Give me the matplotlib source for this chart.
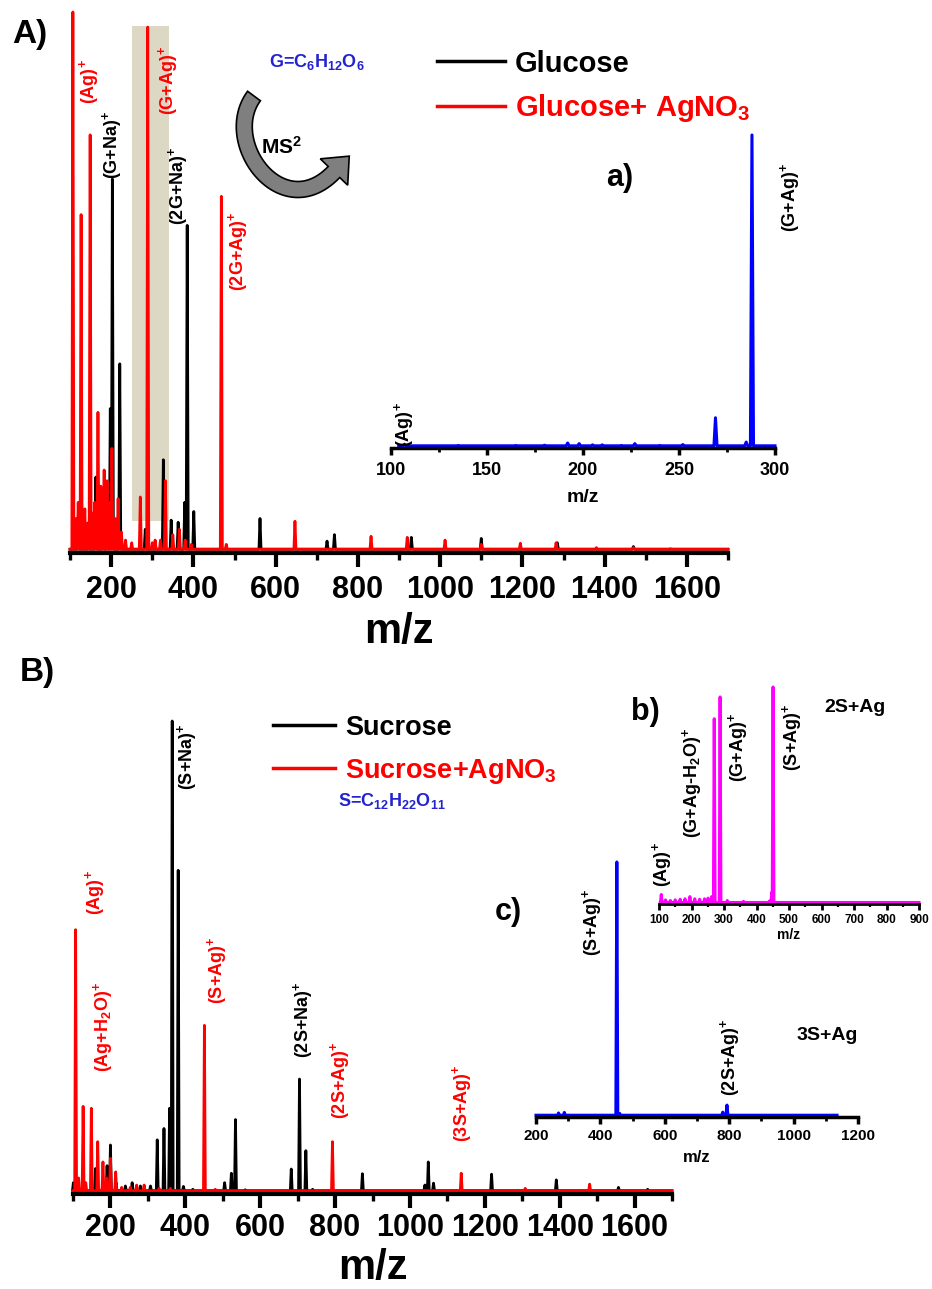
import numpy as np
import matplotlib
matplotlib.use('Agg')
import matplotlib.pyplot as plt
from matplotlib.patches import Rectangle, Polygon

plt.rcParams['font.family'] = ['Liberation Sans', 'DejaVu Sans']
plt.rcParams['font.weight'] = 'bold'
plt.rcParams['mathtext.fontset'] = 'custom'
plt.rcParams['mathtext.rm'] = 'Liberation Sans:bold'
plt.rcParams['mathtext.it'] = 'Liberation Sans:bold'
plt.rcParams['mathtext.bf'] = 'Liberation Sans:bold'

RED, BLUE, MAGENTA, FORMULA = '#ff0000', '#0000ff', '#ff00ff', '#2323cf'

# ---- peak lists: m/z and relative intensity ----
# A) glucose
glu_mz = [120, 145, 163, 180, 191, 198, 203, 221, 283, 327, 346, 363, 379, 385,
          401, 562, 725, 743, 930, 1100, 1285, 1470]
glu_int = [.02, .052, .137, .05, .08, .264, .69, .347, .04, .169, .057, .053, .09,
           .604, .073, .06, .018, .03, .025, .023, .015, .008]

glu_ag_mz = [107, 115, 120, 127, 136, 141, 149, 155, 160, 168, 175, 183, 190, 195,
             202, 210, 217, 225, 235, 250, 271, 289, 300, 307, 320, 332, 350, 366,
             380, 395, 468, 480, 647, 832, 920, 1012, 1100, 1195, 1282, 1380, 1470, 1560]
glu_ag_int = [1.0, .06, .09, .624, .078, .05, .772, .07, .09, .257, .12, .15, .13, .09,
              .19, .06, .097, .035, .02, .015, .10, .972, .015, .02, .02, .13, .03, .04,
              .02, .012, .658, .012, .055, .027, .025, .02, .012, .014, .015, .006, .006, .004]

# a) MS2 of (G+Ag)+
glu_ms2_mz = [107, 135, 165, 180, 192, 198, 205, 210, 220, 227, 240, 252, 269, 285, 288]
glu_ms2_int = [.008, .004, .004, .005, .012, .01, .006, .006, .004, .01, .004, .007,
               .093, .015, 1.0]

# B) sucrose
suc_mz = [101, 160, 180, 191, 200, 215, 240, 258, 280, 307, 325, 343, 358, 365, 381,
          395, 420, 505, 523, 534, 560, 683, 705, 722, 740, 873, 1040, 1049, 1063,
          1218, 1391, 1557, 1635]
suc_int = [.02, .05, .02, .056, .10, .02, .013, .02, .013, .013, .111, .135, .178, 1.0,
           .683, .012, .006, .02, .04, .154, .005, .049, .24, .088, .006, .039, .015,
           .064, .019, .038, .026, .01, .006]

suc_ag_mz = [107, 115, 127, 134, 149, 166, 180, 190, 200, 214, 230, 253, 270, 290, 330,
             360, 451, 480, 793, 1137, 1308, 1480]
suc_ag_int = [.557, .03, .182, .02, .178, .107, .064, .03, .072, .043, .01, .01, .015,
              .015, .008, .008, .354, .006, .107, .04, .008, .017]

# b) MS2 of 2S+Ag
ms2_2s_mz = [107, 120, 135, 150, 165, 180, 195, 210, 225, 240, 251, 262, 270, 288, 310,
             360, 440, 447, 451]
ms2_2s_int = [.04, .015, .012, .015, .018, .02, .03, .02, .018, .02, .023, .03, .853,
              .954, .012, .008, .01, .05, 1.0]

# c) MS2 of 3S+Ag
ms2_3s_mz = [270, 288, 451, 460, 780, 793]
ms2_3s_int = [.012, .014, 1.0, .01, .015, .043]

W, H = 932, 1289
fig = plt.figure(figsize=(W / 100, H / 100), dpi=100)


def px_axes(left, top, right, bottom):
    return fig.add_axes([left / W, 1 - bottom / H, (right - left) / W, (bottom - top) / H])


def stick_trace(centers, heights, half_w, x0, x1, base=0.003):
    pts = [(x0, base)]
    for c, h in sorted(zip(centers, heights)):
        pts += [(c - half_w, base), (c, h), (c + half_w, base)]
    pts.append((x1, base))
    xs, ys = zip(*pts)
    return np.array(xs), np.array(ys)


def style_axis(ax, xlim, major, minor, size, length=8, width=2.5, pad=4, minor_len=None):
    ax.set_xlim(*xlim)
    ax.set_ylim(-0.004, 1.0)
    for side in ('left', 'top', 'right'):
        ax.spines[side].set_visible(False)
    ax.spines['bottom'].set_linewidth(width)
    ax.yaxis.set_visible(False)
    ax.patch.set_alpha(0)
    ax.set_xticks(major, [str(v) for v in major], fontsize=size, fontweight='bold')
    ax.set_xticks(minor, minor=True)
    ax.tick_params(axis='x', which='major', direction='out', length=length, width=width, pad=pad)
    ax.tick_params(axis='x', which='minor', direction='out',
                   length=minor_len if minor_len else length * 0.6, width=width * 0.8)


def peak_labels(ax, items, size=13):
    for text, x, y, color in items:
        ax.text(x, y, text, rotation=90, ha='center', va='bottom', color=color,
                fontsize=size, fontweight='bold')


# ---- panel A ----
axA = px_axes(70, 12, 728, 553)
axA.add_patch(Rectangle((251, 0.056), 90, 0.918, facecolor='#ddd8c4', edgecolor='none', zorder=0))
axA.plot(*stick_trace(glu_mz, glu_int, 2.5, 100, 1700), color='k', lw=2, clip_on=False)
axA.plot(*stick_trace(glu_ag_mz, glu_ag_int, 2.5, 100, 1700), color=RED, lw=2, clip_on=False)
style_axis(axA, (100, 1700), np.arange(200, 1700, 200), np.arange(100, 1800, 200),
           22, length=10, width=3, pad=6, minor_len=5)
axA.set_xlabel('m/z', fontsize=30, fontweight='bold')
axA.xaxis.set_label_coords(0.5, -0.109)
peak_labels(axA, [('(Ag$)^{+}$', 146, 0.83, RED), ('(G+Na$)^{+}$', 202, 0.69, 'k'),
                  ('(G+Ag$)^{+}$', 338, 0.808, RED), ('(2G+Na$)^{+}$', 363, 0.605, 'k'),
                  ('(2G+Ag$)^{+}$', 508, 0.483, RED)])

# inset a)
axa = px_axes(391, 135, 775, 448)
axa.plot(*stick_trace(glu_ms2_mz, glu_ms2_int, 0.8, 104, 300), color=BLUE, lw=2.2, clip_on=False)
style_axis(axa, (100, 300), np.arange(100, 301, 50), np.arange(125, 300, 50), 13,
           length=5, width=2.5, pad=5)
axa.set_xlabel('m/z', fontsize=14, fontweight='bold')
axa.xaxis.set_label_coords(0.5, -0.131)
peak_labels(axa, [('(G+Ag$)^{+}$', 308, 0.69, 'k'), ('(Ag$)^{+}$', 107, 0.0, 'k')])

# ---- panel B ----
axB = px_axes(73, 721, 672, 1194)
axB.plot(*stick_trace(suc_mz, suc_int, 2.5, 100, 1700), color='k', lw=2, clip_on=False)
axB.plot(*stick_trace(suc_ag_mz, suc_ag_int, 2.5, 100, 1700), color=RED, lw=2, clip_on=False)
style_axis(axB, (100, 1700), np.arange(200, 1700, 200), np.arange(100, 1800, 200),
           22, length=10, width=3, pad=4, minor_len=5)
axB.set_xlabel('m/z', fontsize=30, fontweight='bold')
axB.xaxis.set_label_coords(0.5, -0.114)
peak_labels(axB, [('(Ag$)^{+}$', 159, 0.588, RED), ('(Ag+H$_2$O$)^{+}$', 180, 0.256, RED),
                  ('(S+Na$)^{+}$', 405, 0.854, 'k'), ('(S+Ag$)^{+}$', 485, 0.40, RED),
                  ('(2S+Na$)^{+}$', 715, 0.285, 'k'), ('(2S+Ag$)^{+}$', 814, 0.156, RED),
                  ('(3S+Ag$)^{+}$', 1140, 0.106, RED)])

# inset b)
axb = px_axes(659, 687, 919, 904)
axb.plot(*stick_trace(ms2_2s_mz, ms2_2s_int, 2.5, 104, 900), color=MAGENTA, lw=2.2, clip_on=False)
style_axis(axb, (100, 900), np.arange(100, 901, 100), np.arange(150, 900, 100), 8.5,
           length=4, width=2, pad=3)
axb.set_xlabel('m/z', fontsize=10, fontweight='bold')
axb.xaxis.set_label_coords(0.5, -0.11)
peak_labels(axb, [('(Ag$)^{+}$', 109, 0.074, 'k'), ('(G+Ag-H$_2$O$)^{+}$', 201, 0.30, 'k'),
                  ('(G+Ag$)^{+}$', 343, 0.56, 'k'), ('(S+Ag$)^{+}$', 509, 0.61, 'k')])

# inset c)
axc = px_axes(536, 862, 858, 1117)
axc.plot(*stick_trace(ms2_3s_mz, ms2_3s_int, 3, 200, 1135), color=BLUE, lw=2.2, clip_on=False)
style_axis(axc, (200, 1200), np.arange(200, 1201, 200), np.arange(300, 1200, 200), 11,
           length=5, width=2.5, pad=4)
axc.set_xlabel('m/z', fontsize=12, fontweight='bold')
axc.xaxis.set_label_coords(0.5, -0.13)
peak_labels(axc, [('(S+Ag$)^{+}$', 374, 0.63, 'k'), ('(2S+Ag$)^{+}$', 802, 0.08, 'k')])

# ---- decorations in pixel coordinates ----
deco = fig.add_axes([0, 0, 1, 1])
deco.set_xlim(0, W)
deco.set_ylim(H, 0)
deco.axis('off')

for txt, x, y, fs in [('A)', 30, 35, 24), ('B)', 37, 673, 24), ('a)', 620, 178, 22),
                      ('b)', 645, 712, 22), ('c)', 508, 912, 22),
                      ('2S+Ag', 855, 708, 14), ('3S+Ag', 827, 1035, 14)]:
    deco.text(x, y, txt, ha='center', va='center', fontsize=fs, fontweight='bold')

deco.text(269, 67, 'G=C$_6$H$_{12}$O$_6$', color=FORMULA, fontsize=13, va='baseline')
deco.text(338, 806, 'S=C$_{12}$H$_{22}$O$_{11}$', color=FORMULA, fontsize=13, va='baseline')
deco.text(282, 147, 'MS$^{2}$', ha='center', va='center', fontsize=15)

# curved MS2 arrow: cubic Bezier centre line, constant-width body, triangular head
p0, p1, p2, p3 = map(np.array, [(254, 96), (220, 142), (282, 226), (334, 172)])
t = np.linspace(0, 1, 60)[:, None]
centre = (1 - t) ** 3 * p0 + 3 * (1 - t) ** 2 * t * p1 + 3 * (1 - t) * t ** 2 * p2 + t ** 3 * p3
tang = 3 * (1 - t) ** 2 * (p1 - p0) + 6 * (1 - t) * t * (p2 - p1) + 3 * t ** 2 * (p3 - p2)
tang /= np.linalg.norm(tang, axis=1)[:, None]
norm = np.column_stack([-tang[:, 1], tang[:, 0]])
half = 8
side_a = centre + norm * half
side_b = centre - norm * half
end_t, end_n = tang[-1], norm[-1]
head = [p3 + end_n * 19, p3 + end_t * 22, p3 - end_n * 19]
outline = np.vstack([side_a, head[0], head[1], head[2], side_b[::-1]])
deco.add_patch(Polygon(outline, closed=True, facecolor='#7f7f7f', edgecolor='k', lw=1.2))

# legends
for (x0, x1, y), color, label, fs in [((437, 505, 61), 'k', 'Glucose', 21),
                                      ((437, 505, 106), RED, 'Glucose+ AgNO$_3$', 21),
                                      ((273, 335, 725), 'k', 'Sucrose', 19.5),
                                      ((273, 335, 768), RED, 'Sucrose+AgNO$_3$', 19.5)]:
    deco.plot([x0, x1], [y, y], color=color, lw=2.5)
    deco.text(x1 + 10, y + fs * 0.5, label, color=color, fontsize=fs, va='baseline')

fig.savefig('out.png', dpi=100)
